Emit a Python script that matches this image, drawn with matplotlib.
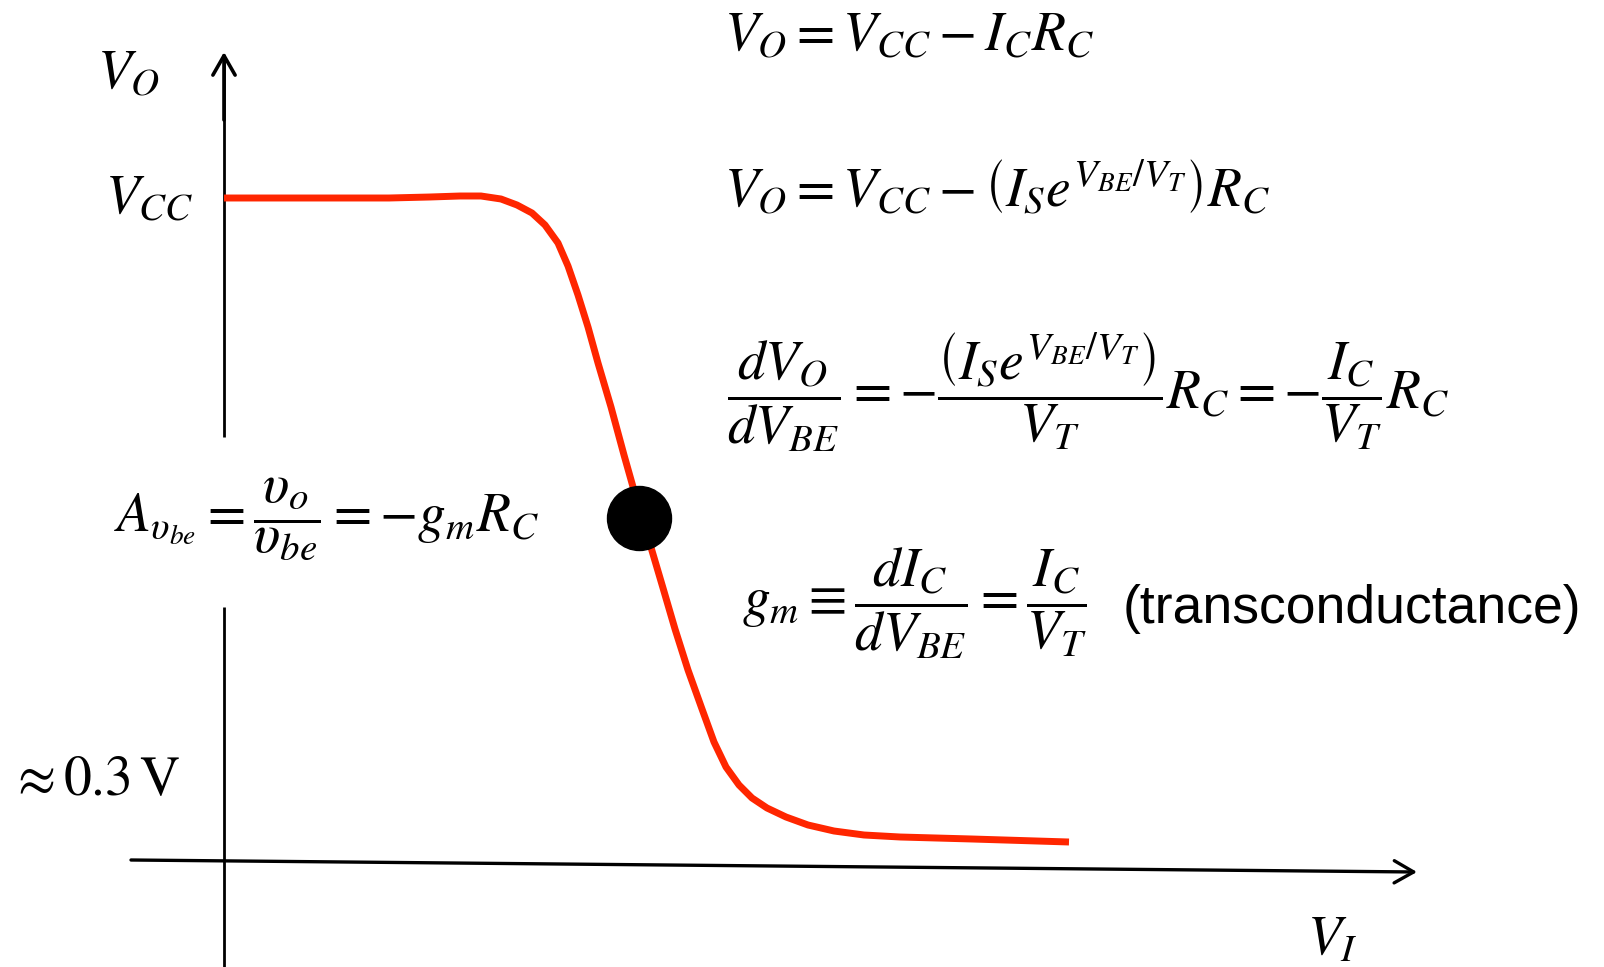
import matplotlib
matplotlib.use("Agg")
import matplotlib.pyplot as plt

plt.rcParams['mathtext.fontset'] = 'stix'

# transfer curve V_O(V_I), sketched in figure pixel space
vi = [224, 307, 389, 430, 460, 481, 501, 517, 532, 545, 558, 568, 578, 588,
      598, 611, 624, 637, 650, 663, 675, 688, 702, 714, 726, 739, 752, 767,
      786, 808, 834, 864, 900, 972, 1069]
vo = [198, 198, 198, 197, 196, 196, 199, 205, 213, 225, 243, 266, 295, 327,
      363, 407, 455, 501, 544, 588, 629, 670, 709, 742, 767, 785, 798, 808,
      817, 825, 831, 835, 837, 839, 842]

# bias point
q_vi = [639]
q_vo = [518]

red = '#ff2600'

fig = plt.figure(figsize=(16.04, 9.67), dpi=100)
ax = fig.add_axes([0, 0, 1, 1])
ax.set_xlim(0, 1604)
ax.set_ylim(967, 0)
ax.axis('off')

# V_O axis, broken around the gain expression
ax.plot([224, 224], [437, 60], color='black', lw=2, solid_capstyle='butt')
ax.plot([224, 224], [607, 967], color='black', lw=2, solid_capstyle='butt')
ax.annotate('', xy=(224, 52), xytext=(224, 120),
            arrowprops=dict(arrowstyle='->,head_length=14,head_width=8',
                            lw=2.6, color='black', shrinkA=0, shrinkB=0,
                            mutation_scale=1))
# V_I axis
ax.annotate('', xy=(1417, 872), xytext=(131, 860),
            arrowprops=dict(arrowstyle='->,head_length=14,head_width=8',
                            lw=2.4, color='black', shrinkA=0, shrinkB=0,
                            mutation_scale=1))

ax.plot(vi, vo, color=red, lw=5, solid_capstyle='butt',
        solid_joinstyle='round', zorder=3)
ax.scatter(q_vi, q_vo, s=(64 * 0.72) ** 2, color='black', zorder=4)

fs = 40
ax.text(97, 88, r'$V_O$', fontsize=fs, ha='left', va='baseline')
ax.text(105, 213, r'$V_{CC}$', fontsize=fs, ha='left', va='baseline')
ax.text(9, 795, r'$\approx 0.3\,\mathrm{V}$', fontsize=fs, ha='left', va='baseline')
ax.text(1307, 955, r'$V_I$', fontsize=fs, ha='left', va='baseline')

ax.text(724, 50, r'$V_O = V_{CC} - I_C R_C$', fontsize=fs, ha='left', va='baseline')
ax.text(724, 207, r'$V_O = V_{CC} - \left(I_S e^{V_{BE}/V_T}\right) R_C$',
        fontsize=fs, ha='left', va='baseline')
ax.text(727, 392,
        r'$\dfrac{dV_O}{dV_{BE}} = -\dfrac{\left(I_S e^{V_{BE}/V_T}\right)}{V_T} R_C'
        r' = -\dfrac{I_C}{V_T} R_C$',
        fontsize=fs, ha='left', va='center')
ax.text(742, 603, r'$g_m \equiv \dfrac{dI_C}{dV_{BE}} = \dfrac{I_C}{V_T}$',
        fontsize=fs, ha='left', va='center')
ax.text(1123, 609, '(transconductance)', fontsize=38.5, family='Liberation Sans',
        ha='left', va='center')
ax.text(114, 519, r'$A_{\upsilon_{be}} = \dfrac{\upsilon_o}{\upsilon_{be}} = -g_m R_C$',
        fontsize=fs, ha='left', va='center')

fig.savefig('out.png', dpi=100, facecolor='white')
